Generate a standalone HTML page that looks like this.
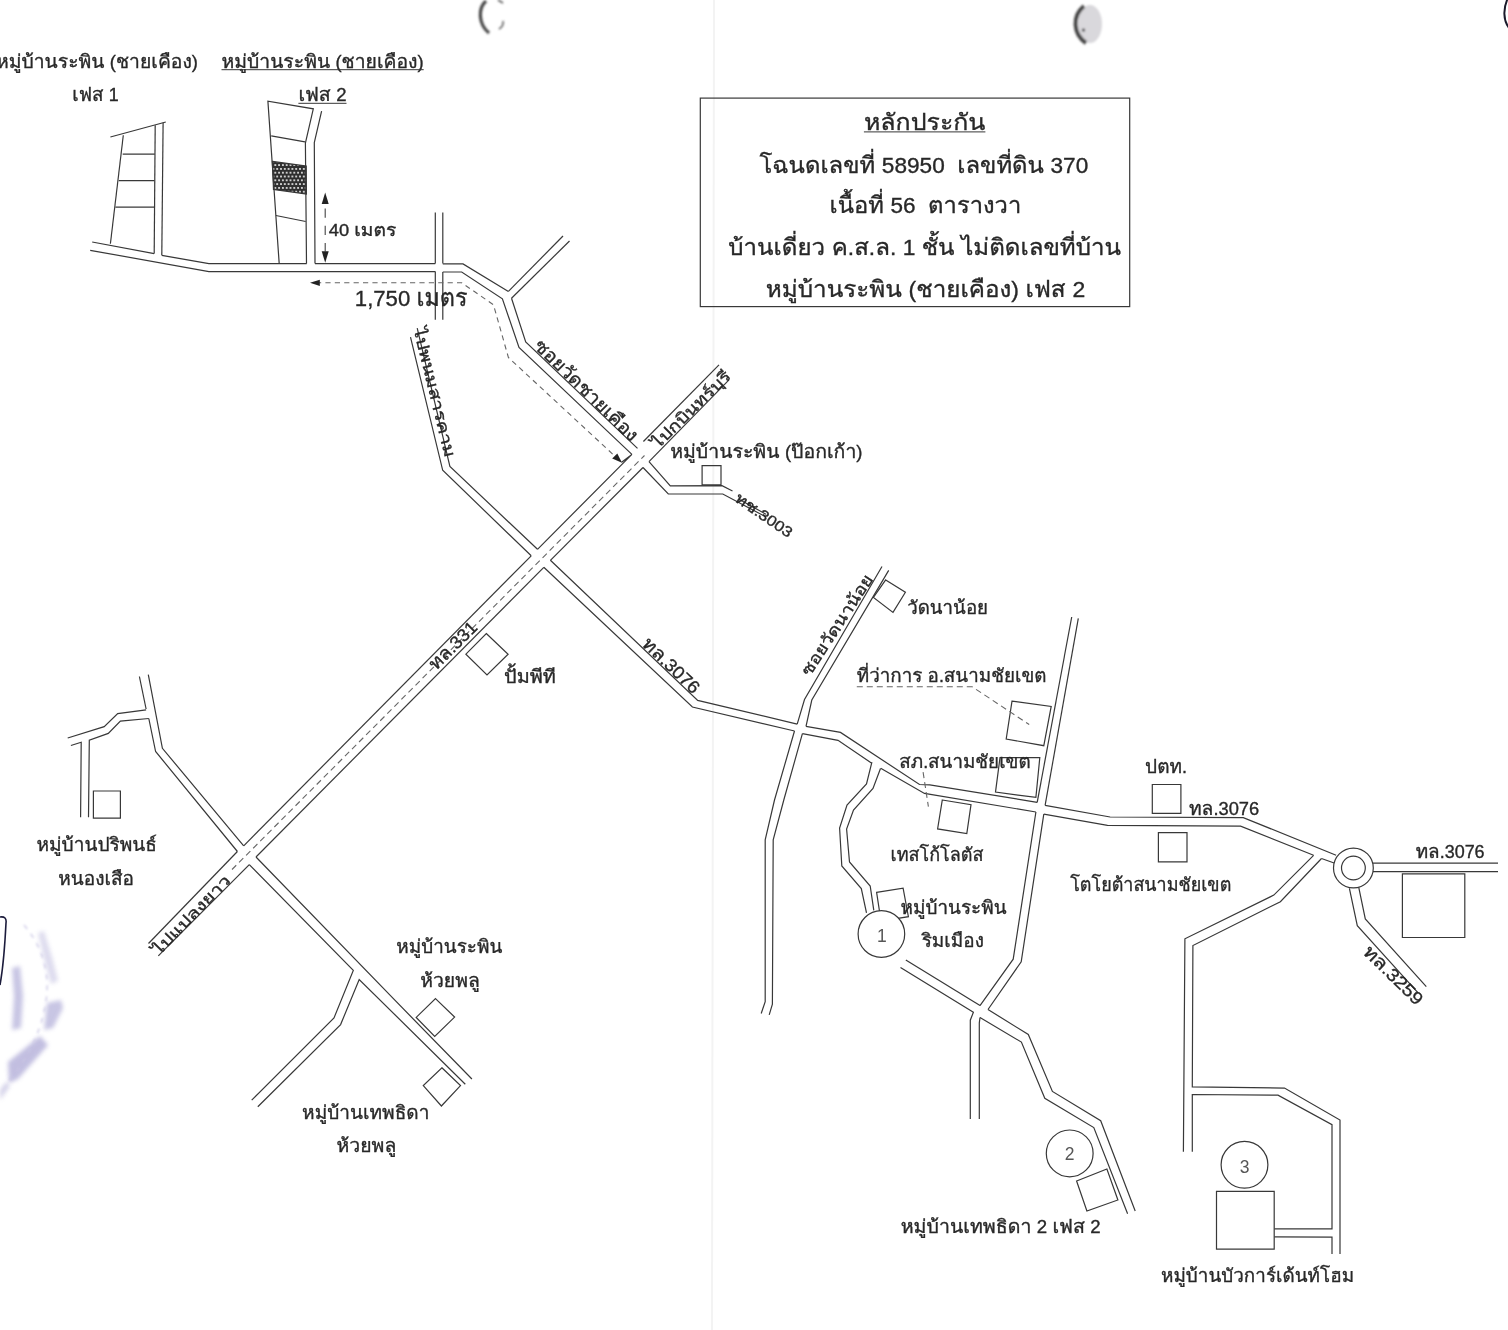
<!DOCTYPE html>
<html lang="th"><head><meta charset="utf-8"><title>แผนที่หลักประกัน</title>
<style>html,body{margin:0;padding:0;background:#fff}body{width:1508px;height:1330px;overflow:hidden}svg{display:block}</style>
</head><body>
<svg width="1508" height="1330" viewBox="0 0 1508 1330">
<defs>
<pattern id="dots" width="3.8" height="7.6" patternUnits="userSpaceOnUse" patternTransform="translate(273.4 163.2)"><rect width="3.8" height="7.6" fill="#2e2e2e"/><circle cx="1.9" cy="1.9" r="1.05" fill="#f4f4f4"/><circle cx="0" cy="5.7" r="1.05" fill="#f4f4f4"/><circle cx="3.8" cy="5.7" r="1.05" fill="#f4f4f4"/></pattern>
<filter id="b1"><feGaussianBlur stdDeviation="1"/></filter>
<filter id="b2"><feGaussianBlur stdDeviation="2.2"/></filter>
</defs>
<line x1="714" y1="0" x2="712" y2="1330" stroke="#f3f3f3" stroke-width="2"/>
<g filter="url(#b1)"><path d="M486,1 C478,8 478,24 489,33" fill="none" stroke="#444" stroke-width="3.2"/><path d="M498,0 l5,3 M503,21 q1,5 -4,8" fill="none" stroke="#555" stroke-width="1.5"/><ellipse cx="1090" cy="24" rx="12" ry="19" fill="#d9d8dc"/><path d="M1084,6 C1072,16 1073,34 1086,43" fill="none" stroke="#444" stroke-width="4"/><circle cx="1083.5" cy="30" r="1.6" fill="#222"/></g>
<path d="M1508,-2 C1503,8 1503,20 1509,28" fill="none" stroke="#1a1a2a" stroke-width="2"/>
<g filter="url(#b2)" fill="#b3afd9" opacity="0.8"><path d="M38,933 l6,-2 l8,26 l6,24 l-7,3 l-7,-25z" opacity=".55"/><path d="M47,1003 l14,-3 l2,8 l-10,20 l-9,2z" opacity=".9"/><path d="M12,968 l8,-2 l3,30 l-2,32 l-9,2 l2,-34z" opacity=".9"/><path d="M8,1062 l32,-26 l8,9 l-30,34 l-9,4z"/><path d="M0,1090 l6,-8 l4,4 l-10,14z" opacity=".7"/></g>
<path d="M24,925 q34,40 18,95 q-10,34 -34,62" fill="none" stroke="#c9c6e4" stroke-width="1.6" stroke-dasharray="5 6" filter="url(#b1)" opacity=".8"/>
<path d="M0,917 q7,-1 6,6 q-2,40 -6,62" fill="none" stroke="#1c1c3c" stroke-width="1.6"/>
<g fill="none" stroke="#383838" stroke-width="1.2" stroke-linejoin="miter">
<polygon points="272.4,161.4 306.2,166.1 306.4,194 273.5,189.4" fill="url(#dots)"/>
<polyline points="110.4,137.0 165.8,122.0"/>
<polyline points="123.3,135.3 110.4,243.7"/>
<polyline points="155.2,125.3 154.2,253.6"/>
<polyline points="163.1,122.7 161.8,255.3"/>
<polyline points="122.7,154.2 154.8,154.2"/>
<polyline points="118.7,180.7 154.5,180.7"/>
<polyline points="115.4,207.2 154.5,207.2"/>
<polyline points="92.2,242.0 154.2,253.6"/>
<polyline points="161.8,255.3 208.9,263.6 306.7,263.6"/>
<polyline points="315.0,263.6 435.3,263.6"/>
<polyline points="442.8,263.8 463.0,263.9 508.4,291.4"/>
<polyline points="90.2,250.3 208.9,271.6 435.3,271.6"/>
<polyline points="442.8,272.0 461.7,272.0 502.4,298.8 519.0,347.5 631.9,454.4"/>
<polyline points="279.2,263.6 267.9,101.1 313.3,108.8 305.4,143.0 306.5,263.6"/>
<polyline points="271.2,135.9 305.0,141.9"/>
<polyline points="275.9,215.5 305.7,221.5"/>
<polyline points="321.6,111.1 314.3,142.6 315.0,263.6"/>
<polyline points="435.3,212.5 435.3,263.6"/>
<polyline points="442.8,212.5 442.8,263.6"/>
<polyline points="435.3,271.6 435.3,319.7"/>
<polyline points="442.8,272.0 442.8,319.7"/>
<polyline points="508.4,291.4 563.0,236.0"/>
<polyline points="511.5,298.3 569.5,241.0"/>
<polyline points="511.5,298.3 525.7,342.0 637.5,448.4"/>
<polyline points="410.5,337.2 442.7,470.3 531.2,555.8"/>
<polyline points="417.2,328.2 449.9,466.5 537.5,549.3"/>
<polyline points="148.5,943.5 237.4,851.5"/>
<polyline points="243.7,845.8 531.2,555.8"/>
<polyline points="537.5,549.3 631.9,454.4 621.6,462.3"/>
<polyline points="643.4,441.5 719.0,364.9"/>
<polyline points="158.3,955.8 249.3,864.6"/>
<polyline points="256.0,857.0 543.8,567.3"/>
<polyline points="550.4,560.3 643.0,467.5"/>
<polyline points="649.0,461.7 729.0,379.8"/>
<polyline points="649.0,461.7 670.3,485.8 722.0,485.6 732.5,491.0"/>
<polyline points="739.0,499.2 766.0,514.3"/>
<polyline points="643.0,467.5 668.3,493.8 722.8,494.0 766.0,517.0"/>
<polyline points="139.4,676.5 146.1,709.0"/>
<polyline points="148.8,718.5 155.6,751.5 237.4,851.5"/>
<polyline points="148.3,674.6 162.4,748.3 243.7,845.8"/>
<polyline points="146.1,709.8 117.7,713.6 104.2,726.6 67.7,738.0"/>
<polyline points="148.8,718.5 120.4,721.2 108.3,733.4 89.3,740.1 88.5,817.3"/>
<polyline points="70.9,745.5 81.2,742.3 80.6,817.3"/>
<polyline points="256.0,857.0 390.0,995.2 471.9,1079.0"/>
<polyline points="249.3,864.6 353.3,970.4 334.0,1017.9 251.7,1100.2"/>
<polyline points="465.3,1084.2 359.2,979.5 340.6,1024.6 257.8,1106.8"/>
<polyline points="550.4,560.3 697.7,700.4 797.2,724.1"/>
<polyline points="806.0,726.3 840.5,732.4 919.5,784.5 929.8,784.9 1037.2,802.3"/>
<polyline points="1045.1,805.4 1110.1,817.0 1243.3,817.6 1336.1,855.3"/>
<polyline points="543.8,567.3 692.4,707.0 794.5,731.0"/>
<polyline points="802.4,733.6 838.0,740.3 871.4,762.9"/>
<polyline points="880.7,768.2 924.5,793.4 1035.9,812.0"/>
<polyline points="1043.8,814.1 1107.5,825.3 1240.6,826.1 1313.6,855.3"/>
<polyline points="1321.5,858.5 1334.8,863.2"/>
<polyline points="882.0,566.5 804.5,699.5 797.2,724.1"/>
<polyline points="888.7,570.4 811.8,700.0 806.0,726.3"/>
<polyline points="794.5,731.0 774.5,800.0 765.2,839.8 765.2,1001.6 761.2,1013.5"/>
<polyline points="802.4,733.6 783.8,800.0 773.2,839.8 772.4,1004.2 769.2,1014.9"/>
<polyline points="871.9,762.2 866.5,784.0 847.0,805.0 839.6,828.0 841.8,866.0 861.3,888.5 866.5,912.8"/>
<polyline points="880.5,768.5 873.0,788.5 853.5,810.0 846.6,829.0 849.5,862.0 870.2,886.0 873.8,910.3"/>
<polyline points="1071.7,617.0 1037.2,802.3"/>
<polyline points="1078.3,618.4 1045.1,805.4"/>
<polyline points="1035.9,812.0 1013.2,959.2 980.0,1005.6"/>
<polyline points="1043.8,814.1 1021.2,961.8 988.0,1009.5"/>
<polyline points="905.8,960.0 980.0,1005.6"/>
<polyline points="988.0,1009.5 1028.3,1034.5 1052.4,1091.4 1100.7,1120.7 1135.2,1211.0"/>
<polyline points="900.5,967.6 973.4,1012.2 970.3,1020.2 970.3,1119.0"/>
<polyline points="980.0,1017.5 1021.4,1042.1 1044.8,1098.3 1093.8,1127.6 1127.6,1213.8"/>
<polyline points="980.0,1017.5 979.3,1022.8 979.3,1119.0"/>
<polyline points="1372.0,863.2 1498.0,863.2"/>
<polyline points="1372.8,871.7 1498.0,871.7"/>
<polyline points="1349.4,888.4 1357.3,925.6 1418.3,993.2"/>
<polyline points="1358.7,887.1 1365.3,918.9 1426.3,986.6"/>
<polyline points="1313.6,855.3 1273.8,895.1 1184.9,938.8 1183.4,1151.7"/>
<polyline points="1321.5,858.5 1280.4,901.7 1192.9,945.5 1192.3,1086.8 1284.5,1088.1 1340.0,1120.0 1340.0,1254.0"/>
<polyline points="1192.3,1151.7 1192.3,1094.5 1278.0,1095.2 1332.0,1124.7 1332.0,1228.8 1274.4,1228.8"/>
<polyline points="1274.4,1236.9 1332.0,1237.1 1332.0,1254.0"/>
<polygon points="702.1,465.7 721.0,465.7 721.0,484.8 702.1,484.8"/>
<polygon points="93.4,791.0 120.4,791.0 120.4,818.1 93.4,818.1"/>
<polygon points="435.5,998.6 454.6,1017.1 434.7,1036.5 416.2,1017.4"/>
<polygon points="441.9,1067.8 460.5,1085.6 441.4,1106.0 423.3,1085.6"/>
<polygon points="486.3,633.5 508.1,654.2 487.0,674.9 465.9,654.2"/>
<polygon points="885.7,579.9 905.4,592.3 893.0,612.4 873.4,597.4"/>
<polygon points="1012.0,701.1 1051.2,706.4 1043.8,745.7 1006.2,739.0"/>
<polygon points="1000.0,757.6 1039.8,757.6 1035.9,797.4 995.5,792.1"/>
<polygon points="942.3,800.0 971.0,804.7 966.8,833.6 937.6,828.9"/>
<polygon points="1152.3,784.5 1180.9,784.5 1180.9,813.4 1152.3,813.4"/>
<polygon points="1158.4,832.7 1187.0,832.7 1187.0,861.9 1158.4,861.9"/>
<polygon points="1402.4,873.8 1464.8,873.8 1464.8,937.5 1402.4,937.5"/>
<polygon points="1076.6,1181.0 1106.9,1169.0 1117.9,1200.0 1086.9,1211.0"/>
<polygon points="1216.5,1191.3 1274.2,1191.3 1274.2,1249.1 1216.5,1249.1"/>
<polygon points="876.6,892.3 903.1,888.1 908.4,916.7 881.0,921.0"/>
<rect x="700.3" y="98.1" width="429.4" height="208.5"/>
<circle cx="881.4" cy="934" r="23.3" fill="#fff"/>
<circle cx="1069.7" cy="1153.4" r="23.4" fill="#fff"/>
<circle cx="1244.5" cy="1164.8" r="23.4" fill="#fff"/>
<circle cx="1353.4" cy="868" r="19.9" fill="#fff"/>
<circle cx="1353.4" cy="868" r="11.9"/>
<g stroke-dasharray="6 4" stroke-width="1.1" stroke="#666">
<polyline points="232.0,869.5 644.5,455.5"/>
<polyline stroke-dasharray="5.2 4.2" points="316.0,282.8 461.7,282.8 493.5,304.8 508.4,357.5 618.5,459.5"/>
<polyline stroke-dasharray="9.2 8" stroke="#444" points="325.2,208.5 325.2,251.5"/>
<polyline points="856.8,686.8 972.2,686.8 1029.2,724.5"/>
<polyline points="923.1,772.2 928.4,806.7"/>
</g>
</g>
<g fill="#222"><polygon points="325.2,192.6 321.7,204 328.7,204"/><polygon points="325.2,262.7 321.7,251.3 328.7,251.3"/><polygon points="310,282.8 319.8,279.7 319.8,285.9"/><polygon points="622,462.8 612.2,458.6 617.3,453.6"/></g>
<g font-family="'Liberation Sans', Loma, 'Noto Sans Thai', sans-serif" fill="#262626" stroke="#262626" stroke-width="0.35" opacity="0.99">
<text x="-4.0" y="68.4" font-size="18.5" textLength="202.0" lengthAdjust="spacingAndGlyphs" >หมู่บ้านระพิน <tspan font-size="17.6">(</tspan>ชายเคือง<tspan font-size="17.6">)</tspan></text>
<text x="221.5" y="68.4" font-size="18.5" textLength="202.2" lengthAdjust="spacingAndGlyphs" >หมู่บ้านระพิน <tspan font-size="17.6">(</tspan>ชายเคือง<tspan font-size="17.6">)</tspan></text>
<line x1="221.5" y1="69.7" x2="423.7" y2="69.7" stroke="#333" stroke-width="1"/>
<text x="72.3" y="100.8" font-size="18.5" textLength="46.4" lengthAdjust="spacingAndGlyphs" >เฟส <tspan font-size="17.6">1</tspan></text>
<text x="298.4" y="100.8" font-size="18.5" textLength="48.1" lengthAdjust="spacingAndGlyphs" >เฟส <tspan font-size="17.6">2</tspan></text>
<line x1="298.4" y1="103.3" x2="346.5" y2="103.3" stroke="#333" stroke-width="1"/>
<text x="328.8" y="235.7" font-size="16.5" textLength="67.4" lengthAdjust="spacingAndGlyphs" ><tspan font-size="15.7">40 </tspan>เมตร</text>
<text x="354.8" y="306.3" font-size="24" textLength="112.7" lengthAdjust="spacingAndGlyphs" ><tspan font-size="22.8">1,750 </tspan>เมตร</text>
<text x="863.9" y="129.5" font-size="23" textLength="121.5" lengthAdjust="spacingAndGlyphs" >หลักประกัน</text>
<line x1="863.9" y1="131.9" x2="985.4" y2="131.9" stroke="#333" stroke-width="1"/>
<text x="759.5" y="172.6" font-size="23" textLength="328.8" lengthAdjust="spacingAndGlyphs" xml:space="preserve">โฉนดเลขที่ <tspan font-size="21.8">58950  </tspan>เลขที่ดิน <tspan font-size="21.8">370</tspan></text>
<text x="829.6" y="212.5" font-size="23" textLength="191.7" lengthAdjust="spacingAndGlyphs" xml:space="preserve">เนื้อที่ <tspan font-size="21.8">56  </tspan>ตารางวา</text>
<text x="728.3" y="254.5" font-size="23" textLength="392.7" lengthAdjust="spacingAndGlyphs" >บ้านเดี่ยว ค<tspan font-size="21.8">.</tspan>ส<tspan font-size="21.8">.</tspan>ล<tspan font-size="21.8">. 1 </tspan>ชั้น ไม่ติดเลขที่บ้าน</text>
<text x="765.7" y="296.6" font-size="23" textLength="319.5" lengthAdjust="spacingAndGlyphs" >หมู่บ้านระพิน <tspan font-size="21.8">(</tspan>ชายเคือง<tspan font-size="21.8">) </tspan>เฟส <tspan font-size="21.8">2</tspan></text>
<text x="670.2" y="457.7" font-size="18.5" textLength="192.3" lengthAdjust="spacingAndGlyphs" >หมู่บ้านระพิน <tspan font-size="17.6">(</tspan>ป๊อกเก้า<tspan font-size="17.6">)</tspan></text>
<text x="907.2" y="613.7" font-size="18.5" textLength="80.9" lengthAdjust="spacingAndGlyphs" >วัดนาน้อย</text>
<text x="856.8" y="681.5" font-size="18.5" textLength="189.7" lengthAdjust="spacingAndGlyphs" >ที่ว่าการ อ<tspan font-size="17.6">.</tspan>สนามชัยเขต</text>
<text x="899.3" y="767.7" font-size="18.5" textLength="131.3" lengthAdjust="spacingAndGlyphs" >สภ<tspan font-size="17.6">.</tspan>สนามชัยเขต</text>
<text x="890.5" y="861.0" font-size="18.5" textLength="93.0" lengthAdjust="spacingAndGlyphs" >เทสโก้โลตัส</text>
<text x="900.5" y="913.5" font-size="18.5" textLength="106.1" lengthAdjust="spacingAndGlyphs" >หมู่บ้านระพิน</text>
<text x="921.7" y="946.7" font-size="18.5" textLength="62.3" lengthAdjust="spacingAndGlyphs" >ริมเมือง</text>
<text x="1070.2" y="890.5" font-size="18.5" textLength="161.1" lengthAdjust="spacingAndGlyphs" >โตโยต้าสนามชัยเขต</text>
<text x="1145.1" y="772.5" font-size="18.5" textLength="41.9" lengthAdjust="spacingAndGlyphs" >ปตท<tspan font-size="17.6">.</tspan></text>
<text x="1188.9" y="814.5" font-size="18.5" textLength="70.3" lengthAdjust="spacingAndGlyphs" >ทล<tspan font-size="17.6">.3076</tspan></text>
<text x="1415.7" y="858.0" font-size="18.5" textLength="68.9" lengthAdjust="spacingAndGlyphs" >ทล<tspan font-size="17.6">.3076</tspan></text>
<text x="504.1" y="683.0" font-size="18.5" textLength="51.8" lengthAdjust="spacingAndGlyphs" >ปั้มพีที</text>
<text x="36.5" y="850.5" font-size="18.5" textLength="120.5" lengthAdjust="spacingAndGlyphs" >หมู่บ้านปริพนธ์</text>
<text x="58.2" y="884.5" font-size="18.5" textLength="75.8" lengthAdjust="spacingAndGlyphs" >หนองเสือ</text>
<text x="396.3" y="952.5" font-size="18.5" textLength="106.1" lengthAdjust="spacingAndGlyphs" >หมู่บ้านระพิน</text>
<text x="420.2" y="987.0" font-size="18.5" textLength="59.6" lengthAdjust="spacingAndGlyphs" >ห้วยพลู</text>
<text x="302.1" y="1118.5" font-size="18.5" textLength="127.3" lengthAdjust="spacingAndGlyphs" >หมู่บ้านเทพธิดา</text>
<text x="336.6" y="1151.5" font-size="18.5" textLength="59.7" lengthAdjust="spacingAndGlyphs" >ห้วยพลู</text>
<text x="900.7" y="1233.1" font-size="18.5" textLength="200.0" lengthAdjust="spacingAndGlyphs" >หมู่บ้านเทพธิดา <tspan font-size="17.6">2 </tspan>เฟส <tspan font-size="17.6">2</tspan></text>
<text x="1161.0" y="1282.0" font-size="18.5" textLength="193.1" lengthAdjust="spacingAndGlyphs" >หมู่บ้านบัวการ์เด้นท์โฮม</text>
<g fill="#555" stroke="none" font-size="17.5" text-anchor="middle"><text x="881.8" y="942.3">1</text><text x="1069.7" y="1160.3">2</text><text x="1244.5" y="1172.8">3</text></g>
<text x="413.5" y="329.0" font-size="16" textLength="133.0" lengthAdjust="spacingAndGlyphs" transform="rotate(76.3 413.5 329.0)" >ไปพนมสารคาม</text>
<text x="533.0" y="347.0" font-size="18.5" textLength="137.0" lengthAdjust="spacingAndGlyphs" transform="rotate(44.2 533.0 347.0)" >ซอยวัดชายเคือง</text>
<text x="658.3" y="449.3" font-size="16" textLength="103.0" lengthAdjust="spacingAndGlyphs" transform="rotate(-44.5 658.3 449.3)" >ไปกบินทร์บุรี</text>
<text x="733.8" y="500.8" font-size="15.5" textLength="66.0" lengthAdjust="spacingAndGlyphs" transform="rotate(34.5 733.8 500.8)" >ทช<tspan font-size="14.7">.3003</tspan></text>
<text x="436.0" y="671.0" font-size="18.5" textLength="60.0" lengthAdjust="spacingAndGlyphs" transform="rotate(-45 436.0 671.0)" >ทล<tspan font-size="17.6">.331</tspan></text>
<text x="641.0" y="645.0" font-size="18.5" textLength="72.0" lengthAdjust="spacingAndGlyphs" transform="rotate(43.7 641.0 645.0)" >ทล<tspan font-size="17.6">.3076</tspan></text>
<text x="809.8" y="677.0" font-size="16.5" textLength="117.0" lengthAdjust="spacingAndGlyphs" transform="rotate(-56.8 809.8 677.0)" >ซอยวัดนาน้อย</text>
<text x="159.0" y="956.0" font-size="15.7" textLength="104.0" lengthAdjust="spacingAndGlyphs" transform="rotate(-45.8 159.0 956.0)" >ไปแปลงยาว</text>
<text x="1362.0" y="953.0" font-size="18.5" textLength="76.0" lengthAdjust="spacingAndGlyphs" transform="rotate(44.5 1362.0 953.0)" >ทล<tspan font-size="17.6">.3259</tspan></text>
</g>
</svg>
</body></html>
